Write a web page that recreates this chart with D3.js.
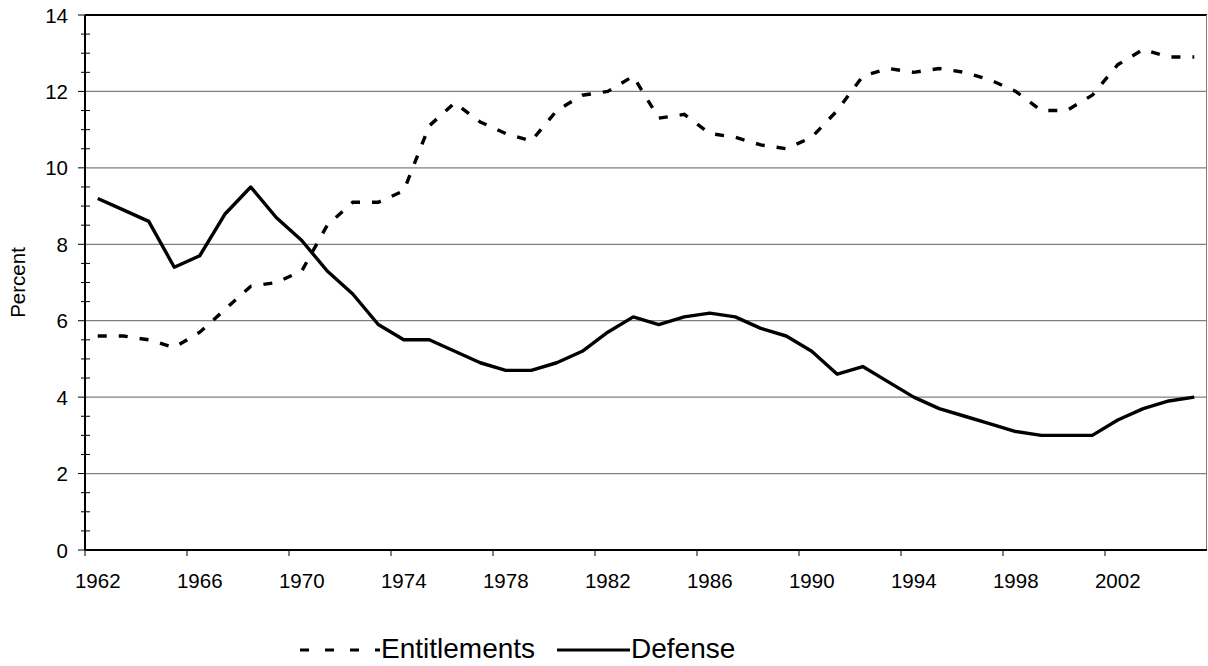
<!DOCTYPE html>
<html>
<head>
<meta charset="utf-8">
<script src="https://cdn.jsdelivr.net/npm/d3@7"></script>
<style>
  body { margin: 0; background: #fff; }
  svg { display: block; font-family: "Liberation Sans", Arial, sans-serif; }
</style>
</head>
<body>
<svg></svg>
<script>
const size = {w: 1208, h: 666};
const margin = {t: 15, r: 1, b: 116, l: 85};
const svg = d3.select('svg').attr('width', size.w).attr('height', size.h);

// data (percent)
const years = d3.range(1962, 2006);
const entitlements = [5.6, 5.6, 5.5, 5.3, 5.7, 6.3, 6.9, 7.0, 7.3, 8.5, 9.1, 9.1, 9.4, 11.1, 11.7, 11.2, 10.9, 10.7, 11.5, 11.9, 12.0, 12.4,
    11.3, 11.4, 10.9, 10.8, 10.6, 10.5, 10.8, 11.5, 12.4, 12.6, 12.5, 12.6, 12.5, 12.3, 12.0, 11.5, 11.5, 11.9, 12.7, 13.1, 12.9, 12.9];
const defense = [9.2, 8.9, 8.6, 7.4, 7.7, 8.8, 9.5, 8.7, 8.1, 7.3, 6.7, 5.9, 5.5, 5.5, 5.2, 4.9, 4.7, 4.7, 4.9, 5.2, 5.7, 6.1,
    5.9, 6.1, 6.2, 6.1, 5.8, 5.6, 5.2, 4.6, 4.8, 4.4, 4.0, 3.7, 3.5, 3.3, 3.1, 3.0, 3.0, 3.0, 3.4, 3.7, 3.9, 4.0];
const yTicks = [0, 2, 4, 6, 8, 10, 12, 14];
const yMinor = d3.range(0, 14.01, 0.5);
const xLabelYears = years.filter(y => (y - 1962) % 4 === 0);

const x = d3.scaleBand().domain(years).range([margin.l, size.w - margin.r]).padding(0);
const y = d3.scaleLinear().domain([0, 14]).range([size.h - margin.b, margin.t]);
const cx = d => x(d) + x.bandwidth() / 2;

const g = svg.append('g');

// gridlines
g.selectAll('line.grid')
    .data(yTicks.filter(d => d > 0 && d < 14))
    .join('line')
    .attr('x1', x.range()[0]).attr('x2', x.range()[1])
    .attr('y1', d => y(d)).attr('y2', d => y(d))
    .attr('stroke', '#808080').attr('stroke-width', 1.2);

// plot border: top black, right grey
g.append('line')
    .attr('x1', x.range()[0]).attr('x2', x.range()[1])
    .attr('y1', y(14)).attr('y2', y(14))
    .attr('stroke', '#000').attr('stroke-width', 2);
g.append('line')
    .attr('x1', x.range()[1] - 0.5).attr('x2', x.range()[1] - 0.5)
    .attr('y1', y(14)).attr('y2', y(0))
    .attr('stroke', '#808080').attr('stroke-width', 1);

// y axis minor / major ticks
g.selectAll('line.minor')
    .data(yMinor.filter(d => d % 2 !== 0))
    .join('line')
    .attr('x1', margin.l - 4).attr('x2', margin.l + 5)
    .attr('y1', d => y(d)).attr('y2', d => y(d))
    .attr('stroke', '#000').attr('stroke-width', 1);
g.selectAll('line.major')
    .data(yTicks)
    .join('line')
    .attr('x1', margin.l - 7).attr('x2', margin.l)
    .attr('y1', d => y(d)).attr('y2', d => y(d))
    .attr('stroke', '#000').attr('stroke-width', 1);

g.selectAll('text.ylab')
    .data(yTicks)
    .join('text')
    .attr('x', margin.l - 17)
    .attr('y', d => y(d) + 7.5)
    .attr('text-anchor', 'end')
    .attr('font-size', 20.5)
    .text(d => d);

// x axis ticks at category boundaries every 4 years
g.selectAll('line.xtick')
    .data(xLabelYears)
    .join('line')
    .attr('x1', d => x(d)).attr('x2', d => x(d))
    .attr('y1', y(0)).attr('y2', y(0) + 6)
    .attr('stroke', '#000').attr('stroke-width', 1);

g.selectAll('text.xlab')
    .data(xLabelYears)
    .join('text')
    .attr('x', d => cx(d))
    .attr('y', y(0) + 38)
    .attr('text-anchor', 'middle')
    .attr('font-size', 20.5)
    .text(d => d);

// axis lines
g.append('line')
    .attr('x1', margin.l).attr('x2', margin.l)
    .attr('y1', y(14)).attr('y2', y(0))
    .attr('stroke', '#000').attr('stroke-width', 2);
g.append('line')
    .attr('x1', margin.l).attr('x2', x.range()[1])
    .attr('y1', y(0)).attr('y2', y(0))
    .attr('stroke', '#000').attr('stroke-width', 2);

// y title
svg.append('text')
    .attr('transform', `translate(25, ${y(7)}) rotate(-90)`)
    .attr('text-anchor', 'middle')
    .attr('font-size', 20.5)
    .text('Percent');

// lines
const line = d3.line().x(d => cx(d[0])).y(d => y(d[1]));

g.append('path')
    .datum(d3.zip(years, entitlements))
    .attr('d', line)
    .attr('fill', 'none')
    .attr('stroke', '#000')
    .attr('stroke-width', 3.4)
    .attr('stroke-dasharray', '9,12');

g.append('path')
    .datum(d3.zip(years, defense))
    .attr('d', line)
    .attr('fill', 'none')
    .attr('stroke', '#000')
    .attr('stroke-width', 3.4)
    .attr('stroke-linejoin', 'round');

// legend
const legend = svg.append('g').attr('font-size', 28);
legend.append('line')
    .attr('x1', 300).attr('x2', 380).attr('y1', 650).attr('y2', 650)
    .attr('stroke', '#000').attr('stroke-width', 3.2)
    .attr('stroke-dasharray', '9,16');
legend.append('text').attr('x', 381).attr('y', 658).text('Entitlements');
legend.append('line')
    .attr('x1', 557).attr('x2', 630).attr('y1', 650).attr('y2', 650)
    .attr('stroke', '#000').attr('stroke-width', 3.2);
legend.append('text').attr('x', 631).attr('y', 658).text('Defense');
</script>
</body>
</html>
